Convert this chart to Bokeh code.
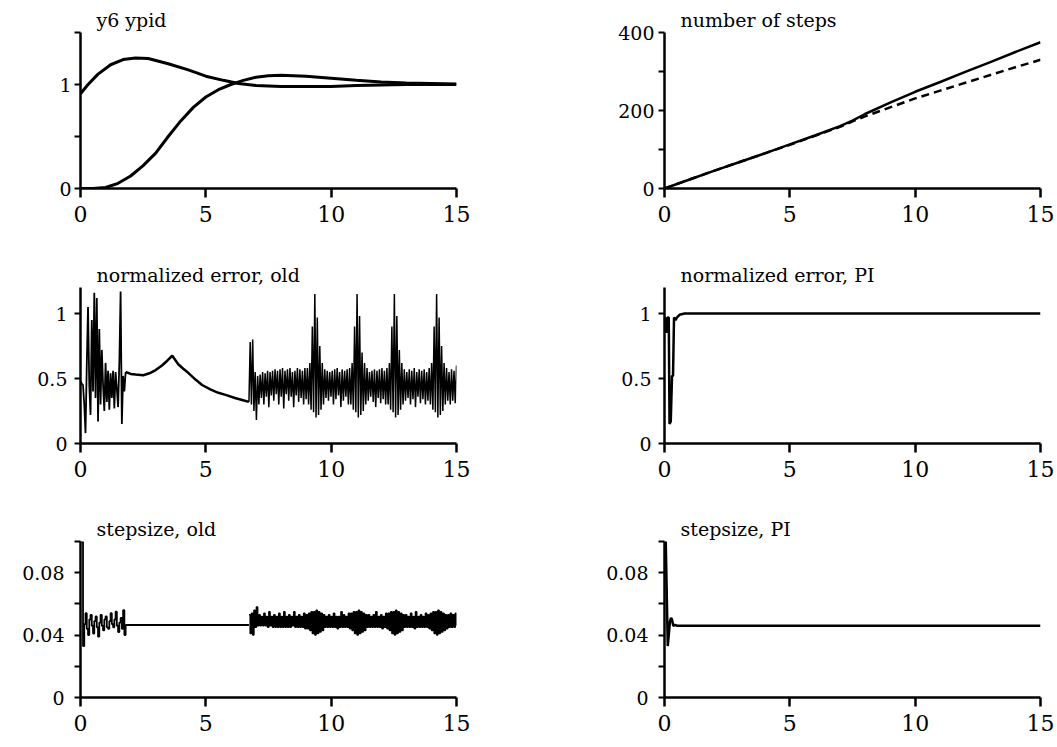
import numpy as np
from bokeh.plotting import figure
from bokeh.layouts import gridplot
from bokeh.models import Range1d, FixedTicker
from bokeh.embed import file_html
from bokeh.resources import INLINE

FONT = "DejaVu Serif"

# ---------------- data ----------------
x_ticks = [0, 5, 10, 15]

# panel 1: y6 / ypid
t_ypid = [0, 0.3, 0.7, 1.2, 1.7, 2.2, 2.7, 3.5, 4.3, 5.0, 5.7, 6.3, 7.0, 8.0, 9.0, 10.0, 11.0, 12.0, 13.0, 14.0, 15.0]
ypid = [0.91, 1.0, 1.1, 1.19, 1.24, 1.255, 1.25, 1.2, 1.14, 1.08, 1.04, 1.01, 0.99, 0.98, 0.98, 0.98, 0.99, 0.995, 1.0, 1.0, 1.0]
t_y6 = [0, 0.5, 1.0, 1.5, 2.0, 2.5, 3.0, 3.5, 4.0, 4.5, 5.0, 5.5, 6.0, 6.5, 7.0, 7.5, 8.0, 9.0, 10.0, 11.0, 12.0, 13.0, 14.0, 15.0]
y6 = [0.0, 0.0, 0.01, 0.05, 0.12, 0.22, 0.34, 0.5, 0.65, 0.78, 0.88, 0.95, 1.0, 1.04, 1.07, 1.085, 1.09, 1.08, 1.06, 1.04, 1.025, 1.015, 1.01, 1.005]

# panel 2: number of steps
t_steps = [0, 1, 2, 3, 4, 5, 6, 7, 7.5, 8, 9, 10, 11, 12, 13, 14, 15]
steps_old = [0, 23, 46, 68, 90, 113, 136, 160, 174, 191, 220, 248, 273, 299, 324, 350, 375]
steps_pi = [0, 23, 46, 68, 90, 112, 135, 158, 172, 185, 208, 231, 251, 271, 291, 311, 330]

# panel 3: normalized error, old
err_old_a = [0.48, 0.46, 0.45, 0.30, 0.08, 0.60, 1.05, 0.45, 0.22, 0.95,
             0.40, 1.16, 0.35, 1.12, 0.17, 0.88, 0.30, 0.72, 0.45, 0.25,
             0.62, 0.32, 0.56, 0.26, 0.54, 0.35, 0.56, 0.27, 0.55, 0.42,
             0.28, 0.63, 1.17, 0.15, 0.52, 0.40, 0.55]
t_err_old_b = [1.80, 2.0, 2.2, 2.5, 2.75, 3.0, 3.25, 3.45, 3.66, 3.9, 4.1, 4.32, 4.6, 4.85, 5.2, 5.5, 5.85, 6.16, 6.45, 6.72]
err_old_b = [0.55, 0.535, 0.53, 0.525, 0.54, 0.565, 0.60, 0.635, 0.675, 0.61, 0.575, 0.54, 0.49, 0.45, 0.415, 0.39, 0.37, 0.35, 0.335, 0.32]
err_old_c = [
    0.32, 0.78, 0.30, 0.80, 0.25, 0.55, 0.18, 0.52, 0.30, 0.53,
    0.35, 0.55, 0.30, 0.54, 0.36, 0.56, 0.28, 0.55, 0.37, 0.56,
    0.33, 0.57, 0.38, 0.56, 0.30, 0.57, 0.36, 0.58, 0.27, 0.56,
    0.38, 0.57, 0.33, 0.58, 0.36, 0.55, 0.28, 0.56, 0.37, 0.58,
    0.32, 0.57, 0.35, 0.56, 0.30, 0.58, 0.34, 0.58, 0.30, 0.62,
    0.26, 0.90, 0.24, 1.15, 0.20, 0.97, 0.22, 0.75, 0.26, 0.62,
    0.30, 0.57, 0.35, 0.56, 0.33, 0.55, 0.36, 0.56, 0.30, 0.57,
    0.34, 0.58, 0.37, 0.55, 0.28, 0.57, 0.33, 0.56, 0.36, 0.57,
    0.30, 0.58, 0.30, 0.62, 0.26, 0.90, 0.24, 1.15, 0.20, 0.98,
    0.22, 0.70, 0.25, 0.62, 0.30, 0.58, 0.33, 0.55, 0.36, 0.56,
    0.32, 0.57, 0.28, 0.56, 0.35, 0.57, 0.31, 0.58, 0.34, 0.56,
    0.30, 0.58, 0.30, 0.62, 0.26, 0.90, 0.24, 1.15, 0.20, 0.98,
    0.22, 0.72, 0.26, 0.62, 0.30, 0.57, 0.33, 0.55, 0.35, 0.57,
    0.30, 0.56, 0.34, 0.58, 0.28, 0.55, 0.36, 0.57, 0.31, 0.56,
    0.34, 0.57, 0.30, 0.55, 0.33, 0.58, 0.30, 0.62, 0.26, 0.90,
    0.24, 1.15, 0.20, 0.97, 0.22, 0.75, 0.25, 0.62, 0.30, 0.58,
    0.33, 0.55, 0.30, 0.57, 0.33, 0.56, 0.31, 0.60,
]

# panel 4: normalized error, PI
t_err_pi = [0, 0.04, 0.08, 0.12, 0.17, 0.20, 0.25, 0.30, 0.34, 0.38, 0.44, 0.50, 0.60, 0.80, 1.5, 15]
err_pi = [0.85, 0.97, 0.85, 0.97, 0.97, 0.15, 0.17, 0.52, 0.52, 0.97, 0.95, 0.97, 0.99, 1.0, 1.0, 1.0]

# panel 5: stepsize, old
step_old_a = [0.100, 0.100, 0.033, 0.047, 0.054, 0.044, 0.040, 0.050, 0.053, 0.046,
              0.041, 0.049, 0.052, 0.045, 0.039, 0.048, 0.053, 0.046, 0.043, 0.050,
              0.052, 0.045, 0.044, 0.049, 0.054, 0.047, 0.045, 0.050, 0.055, 0.046,
              0.042, 0.048, 0.051, 0.044, 0.056, 0.040, 0.047]
t_step_old_b = [1.8, 6.72]
step_old_b = [0.0465, 0.0465]
step_old_c = [
    0.053, 0.041, 0.054, 0.040, 0.056, 0.045, 0.058, 0.046, 0.053, 0.046,
    0.052, 0.046, 0.054, 0.046, 0.052, 0.045, 0.055, 0.046, 0.052, 0.045,
    0.053, 0.045, 0.052, 0.045, 0.054, 0.045, 0.052, 0.045, 0.055, 0.045,
    0.052, 0.045, 0.053, 0.045, 0.052, 0.046, 0.055, 0.045, 0.052, 0.045,
    0.053, 0.045, 0.052, 0.045, 0.054, 0.044, 0.053, 0.044, 0.054, 0.043,
    0.055, 0.041, 0.055, 0.040, 0.056, 0.041, 0.055, 0.042, 0.054, 0.043,
    0.053, 0.045, 0.052, 0.045, 0.053, 0.045, 0.052, 0.045, 0.054, 0.045,
    0.052, 0.044, 0.052, 0.045, 0.055, 0.045, 0.053, 0.045, 0.052, 0.045,
    0.054, 0.044, 0.054, 0.043, 0.055, 0.041, 0.055, 0.040, 0.056, 0.041,
    0.055, 0.042, 0.054, 0.043, 0.053, 0.045, 0.053, 0.045, 0.052, 0.045,
    0.053, 0.045, 0.055, 0.045, 0.052, 0.045, 0.053, 0.044, 0.052, 0.045,
    0.054, 0.044, 0.054, 0.043, 0.055, 0.041, 0.055, 0.040, 0.056, 0.041,
    0.055, 0.042, 0.054, 0.043, 0.053, 0.045, 0.053, 0.045, 0.052, 0.045,
    0.054, 0.045, 0.052, 0.044, 0.055, 0.045, 0.052, 0.045, 0.053, 0.045,
    0.052, 0.045, 0.054, 0.045, 0.053, 0.044, 0.054, 0.043, 0.055, 0.041,
    0.055, 0.040, 0.056, 0.041, 0.055, 0.042, 0.054, 0.043, 0.053, 0.044,
    0.053, 0.045, 0.054, 0.045, 0.053, 0.045, 0.054, 0.046,
]

# panel 6: stepsize, PI
t_step_pi = [0, 0.05, 0.13, 0.17, 0.22, 0.26, 0.30, 0.35, 0.42, 0.5, 15]
step_pi = [0.1, 0.1, 0.033, 0.040, 0.049, 0.051, 0.050, 0.046, 0.0465, 0.046, 0.046]

# sample-time grids of the dense records
t_err_old_a = np.linspace(0.0, 1.8, len(err_old_a))
t_err_old_c = np.linspace(6.72, 15.0, len(err_old_c))
t_step_old_a = np.linspace(0.0, 1.8, len(step_old_a))
t_step_old_c = np.linspace(6.72, 15.0, len(step_old_c))


# ---------------- figures ----------------
def make_fig(w, h, bl, br, bt, bb, ytop, yticks, yminor, ylabels, title, ystand):
    p = figure(width=w, height=h, x_range=Range1d(0, 15), y_range=Range1d(0, ytop),
               output_backend="svg", toolbar_location=None, title=title,
               min_border_left=bl, min_border_right=br,
               min_border_top=bt, min_border_bottom=bb)
    p.grid.visible = False
    p.outline_line_color = None
    p.background_fill_color = "white"
    p.border_fill_color = "white"

    p.title.align = "left"
    p.title.offset = 16
    p.title.standoff = 3
    p.title.text_font = FONT
    p.title.text_font_size = "19px"
    p.title.text_font_style = "normal"
    p.title.text_color = "black"

    xa = p.xaxis[0]
    xa.ticker = FixedTicker(ticks=x_ticks)
    xa.axis_line_width = 2.5
    xa.axis_line_color = "black"
    xa.major_tick_line_width = 2.5
    xa.major_tick_line_color = "black"
    xa.major_tick_out = 9
    xa.major_tick_in = 0
    xa.minor_tick_line_color = None
    xa.major_label_text_font = FONT
    xa.major_label_text_font_size = "22px"
    xa.major_label_text_color = "black"
    xa.major_label_standoff = 8

    ya = p.yaxis[0]
    ya.ticker = FixedTicker(ticks=yticks, minor_ticks=yminor)
    ya.axis_line_width = 2.5
    ya.axis_line_color = "black"
    ya.major_tick_line_width = 2
    ya.major_tick_line_color = "black"
    ya.major_tick_out = 6
    ya.major_tick_in = 0
    ya.minor_tick_line_width = 2
    ya.minor_tick_line_color = "black"
    ya.minor_tick_out = 6
    ya.minor_tick_in = 0
    ya.major_label_text_font = FONT
    ya.major_label_text_font_size = "19px"
    ya.major_label_text_color = "black"
    ya.major_label_standoff = ystand
    ya.major_label_overrides = {k: v for k, v in zip(yticks, ylabels)}
    return p


p1 = make_fig(528, 245, 77, 72, 32, 55, 1.5, [0, 1], [0.5, 1.5], ["0", "1"], "y6 ypid", 3)
p1.line(t_ypid, ypid, line_color="black", line_width=3)
p1.line(t_y6, y6, line_color="black", line_width=3)

p2 = make_fig(529, 245, 131, 17, 29, 57, 400, [0, 200, 400], [100, 300], ["0", "200", "400"], "number of steps", 4)
p2.line(t_steps, steps_old, line_color="black", line_width=2.5)
p2.line(t_steps, steps_pi, line_color="black", line_width=2.5, line_dash="8 5")

p3 = make_fig(528, 250, 77, 71, 42, 51, 1.2, [0, 0.5, 1], [], ["0", "0.5", "1"], "normalized error, old", 7)
p3.line(t_err_old_a, err_old_a, line_color="black", line_width=1.8)
p3.line(t_err_old_b, err_old_b, line_color="black", line_width=2.5)
p3.line(t_err_old_c, err_old_c, line_color="black", line_width=1.5)

p4 = make_fig(529, 250, 133, 17, 38, 52, 1.2, [0, 0.5, 1], [], ["0", "0.5", "1"], "normalized error, PI", 7)
p4.line(t_err_pi, err_pi, line_color="black", line_width=2.5)

p5 = make_fig(528, 252, 80, 68, 46, 46, 0.1, [0, 0.04, 0.08], [0.02, 0.06, 0.1], ["0", "0.04", "0.08"], "stepsize, old", 10)
p5.step(t_step_old_a, step_old_a, mode="after", line_color="black", line_width=1.8)
p5.line(t_step_old_b, step_old_b, line_color="black", line_width=2)
p5.step(t_step_old_c, step_old_c, mode="after", line_color="black", line_width=1.5)

p6 = make_fig(529, 252, 136, 12, 44, 50, 0.1, [0, 0.04, 0.08], [0.02, 0.06, 0.1], ["0", "0.04", "0.08"], "stepsize, PI", 10)
p6.line(t_step_pi, step_pi, line_color="black", line_width=2.5)

grid = gridplot([[p1, p2], [p3, p4], [p5, p6]], toolbar_location=None)

open("out.html", "w").write(file_html(grid, INLINE))
